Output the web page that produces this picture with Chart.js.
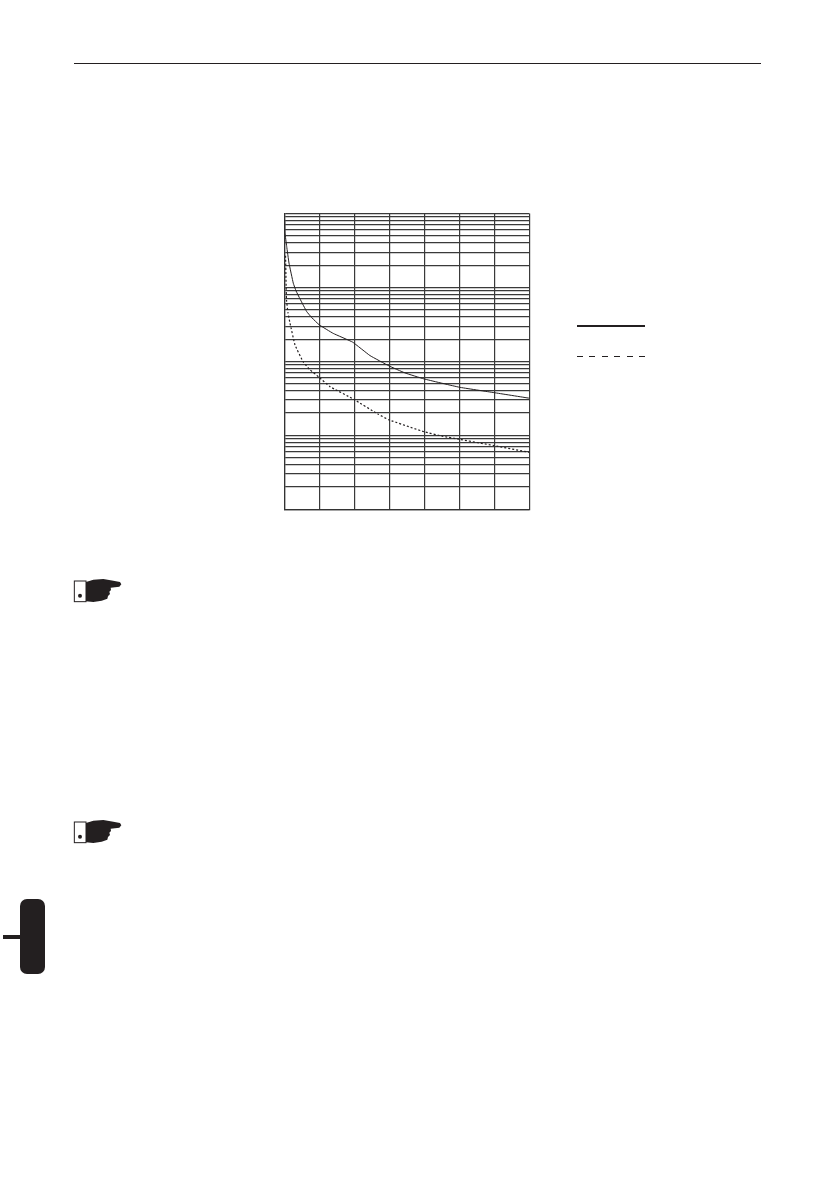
<!DOCTYPE html>
<html>
<head>
<meta charset="utf-8">
<script src="https://cdn.jsdelivr.net/npm/chart.js@4"></script>
<style>
  html, body { margin: 0; padding: 0; background: #fff; }
  body { position: relative; width: 839px; height: 1191px; overflow: hidden; }
  #c { position: absolute; left: 279px; top: 208px; }
  .ink { position: absolute; background: #231f20; }
  .hand { position: absolute; left: 60px; width: 80px; height: 40px; }
  #dash { position: absolute; left: 577px; top: 355.5px; width: 68px; height: 1px;
          background: repeating-linear-gradient(90deg, #231f20 0 6px, transparent 6px 12.4px); }
</style>
</head>
<body>
<div class="ink" style="left:74px;top:63px;width:687px;height:1.3px"></div>

<canvas id="c" width="256" height="307"></canvas>

<!-- line keys beside the chart -->
<div class="ink" style="left:577px;top:324.6px;width:68px;height:2px"></div>
<div id="dash"></div>

<svg class="hand" style="top:570px" viewBox="0 0 240 120"><use href="#h"/></svg>
<svg class="hand" style="top:811.3px" viewBox="0 0 240 120">
  <g id="h">
    <rect x="43" y="33" width="35" height="62" fill="#fff" stroke="#231f20" stroke-width="3"/>
    <circle cx="60" cy="77" r="6" fill="#231f20"/>
    <path d="M78 36 L100 29 L130 27 L160 32 L180 36 L184 43 L178 50 L152 53 L153 60 L148 65 L150 72 L144 78 L142 86 L125 92 L100 96 L78 94 Z" fill="#231f20"/>
  </g>
</svg>

<div class="ink" style="left:20px;top:899px;width:25px;height:75px;border-radius:7px"></div>
<div class="ink" style="left:3px;top:935px;width:18px;height:4px"></div>

<script>
// values, x in grid divisions, y on the log axis
const solidX = [0.006, 0.014, 0.063, 0.129, 0.251, 0.329, 0.443, 0.634, 0.786, 0.994, 1.394, 1.949, 2.443, 2.986, 3.44, 3.986, 4.994, 5.994, 7];
const solidY = [8222, 5483, 3575, 2133, 1143, 899, 701, 472, 388, 312, 239, 182, 120, 87, 70, 58, 44.8, 37.8, 31.8];
const dashX = [0.03, 0.043, 0.057, 0.1, 0.157, 0.3, 0.537, 0.729, 0.971, 1.3, 1.977, 2.68, 2.986, 3.986, 4.537, 4.994, 5.994, 7];
const dashY = [2677, 1267, 679, 453, 329, 167, 98, 77, 62, 45.6, 30.8, 19.3, 16.2, 11.2, 9.7, 8.85, 7.26, 5.9];

const xTicks = [0, 1, 2, 3, 4, 5, 6, 7];
const yTicks = [
  1, 2, 3, 4, 5, 6, 7, 8, 9,
  10, 20, 30, 40, 50, 60, 70, 80, 90,
  100, 200, 300, 400, 500, 600, 700, 800, 900,
  1000, 2000, 3000, 4000, 5000, 6000, 7000, 8000, 9000,
  10000
];

function points(xs, ys) {
  return xs.map((x, i) => ({ x: x, y: ys[i] }));
}

function fixedTicks(values) {
  return scale => { scale.ticks = values.map(v => ({ value: v })); };
}

new Chart(document.getElementById("c"), {
  type: 'scatter',
  data: {
    datasets: [
      {
        label: "solid",
        data: points(solidX, solidY),
        showLine: true,
        borderColor: "#231f20",
        borderWidth: 1,
        pointRadius: 0,
        tension: 0.1
      },
      {
        label: "dashed",
        data: points(dashX, dashY),
        showLine: true,
        borderColor: "#231f20",
        borderWidth: 1.2,
        borderDash: [2, 2],
        pointRadius: 0,
        tension: 0.1
      }
    ]
  },
  options: {
    responsive: false,
    animation: false,
    layout: { padding: { left: 5.5, right: 5.7, top: 5.5, bottom: 5.7 } },
    plugins: { legend: { display: false }, tooltip: { enabled: false } },
    scales: {
      x: {
        type: 'linear',
        min: xTicks[0],
        max: xTicks[xTicks.length - 1],
        afterBuildTicks: fixedTicks(xTicks),
        ticks: { display: false },
        grid: { color: "#3a3a3a", lineWidth: 1.2, drawTicks: false },
        border: { color: "#333", width: 1.2 }
      },
      y: {
        type: 'logarithmic',
        min: yTicks[0],
        max: yTicks[yTicks.length - 1],
        afterBuildTicks: fixedTicks(yTicks),
        ticks: { display: false },
        grid: { color: "#3a3a3a", lineWidth: 1.2, drawTicks: false },
        border: { color: "#333", width: 1.2 }
      }
    }
  }
});
</script>
</body>
</html>
